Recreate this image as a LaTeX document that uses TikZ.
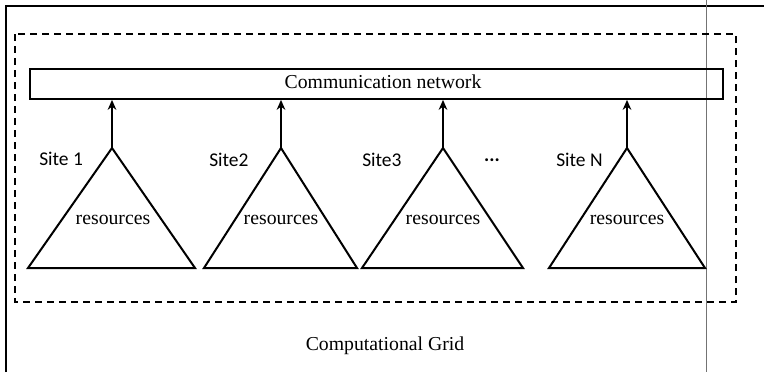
\documentclass[tikz,border=0pt]{standalone}
\usepackage{fontspec}
\setmainfont{Liberation Serif}
\newfontfamily\sitefont{Carlito}
\usetikzlibrary{arrows.meta}
\begin{document}
\begin{tikzpicture}[x=0.75pt,y=-0.75pt,
  frame/.style={line width=1.2pt},
  thinline/.style={line width=0.5pt,draw=black!55},
  dashbox/.style={line width=1.3pt,dash pattern=on 5.5pt off 3.5pt},
  netbox/.style={draw,line width=1.3pt,minimum width=519.75pt,minimum height=22.5pt,inner sep=0pt},
  tri/.style={line width=1.5pt,line join=miter},
  uparrow/.style={line width=1.5pt,-{Stealth[length=7.5pt,width=6.5pt]}},
  sitelabel/.style={font=\sitefont\fontsize{14.6}{16}\selectfont,inner sep=0pt},
  reslabel/.style={font=\fontsize{14.8}{16}\selectfont,inner sep=0pt},
  caption/.style={font=\fontsize{14.8}{16}\selectfont,inner sep=0pt}]
\useasboundingbox (0,0) rectangle (764,372);
% outer frame (open at the bottom)
\draw[frame] (6,372) -- (6,6) -- (764,6);
\draw[thinline] (706,0) -- (706,372);
% dashed grid boundary
\draw[dashbox] (15,34) rectangle (736,302);
% communication network
\node[netbox] (net) at (376.5,84) {};
\node[reslabel] (nettext) at (383,82) {Communication network};
% sites
\coordinate (a1) at (112,148);
\coordinate (a2) at (281,148);
\coordinate (a3) at (443,148);
\coordinate (a4) at (627,148);
\draw[tri] (a1) -- (28,268) -- (195,268) -- cycle;
\draw[tri] (a2) -- (204,268) -- (357,268) -- cycle;
\draw[tri] (a3) -- (362,268) -- (523,268) -- cycle;
\draw[tri] (a4) -- (549,268) -- (705,268) -- cycle;
\foreach \i in {1,2,3,4}{
  \draw[uparrow] (a\i) -- (a\i |- net.south);
}
\node[reslabel] (r1) at (113,220) {resources};
\node[reslabel] (r2) at (281,220) {resources};
\node[reslabel] (r3) at (443,220) {resources};
\node[reslabel] (r4) at (627,220) {resources};
\node[sitelabel,anchor=west] (s1) at (39,159) {Site 1};
\node[sitelabel,anchor=west] (s2) at (209,160) {Site2};
\node[sitelabel,anchor=west] (s3) at (362,160) {Site3};
\node[sitelabel] (dots) at (492,160) {\textbf{...}};
\node[sitelabel,anchor=west] (s4) at (556,160) {Site N};
\node[caption] (grid) at (385,346) {Computational Grid};
\end{tikzpicture}
\end{document}
